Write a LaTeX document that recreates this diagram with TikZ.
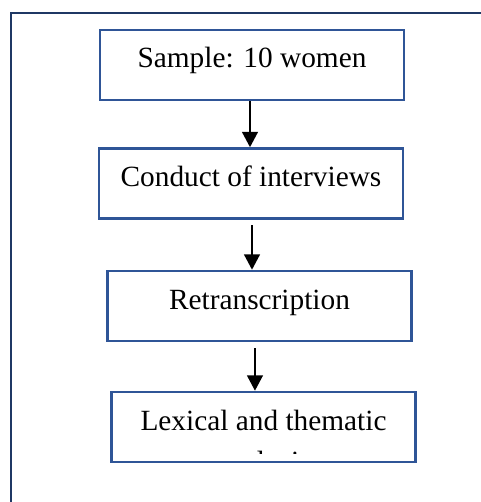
\documentclass[tikz,border=0pt]{standalone}
\usepackage{fontspec}
\setmainfont{Liberation Serif}
\usetikzlibrary{arrows.meta}
\definecolor{boxblue}{HTML}{2F5597}
\definecolor{framenavy}{HTML}{1F3864}
\tikzset{
  stepbox/.style={draw=boxblue,line width=1.8pt,fill=white,
    minimum width=228pt,minimum height=52.5pt,inner sep=0pt,
    text height=12pt,text depth=7.5pt,font=\fontsize{22}{25}\selectfont},
  steptext/.style={font=\fontsize{22}{25}\selectfont,inner sep=0pt},
  flowarrow/.style={-{Triangle[length=11.5pt,width=11.5pt]},line width=2.2pt,black}
}

\begin{document}
\begin{tikzpicture}[x=0.75pt,y=-0.75pt]
  \useasboundingbox (0,0) rectangle (480,502);
  % frame round the whole figure
  \draw[framenavy,line width=1.6pt] (11,506) -- (11,13) -- (486,13);
  % steps
  \node[stepbox] (sample) at (252,65) {Sample: 10 women};
  \node[stepbox] (interviews) at (251,183.5) {Conduct of interviews};
  \node[stepbox] (retrans) at (259.5,306) {Retranscription};
  \node[stepbox] (lexical) at (263.5,427) {Lexical and thematic};
  % overflowing second line, cut by the box
  \begin{scope}
    \clip (lexical.north west) rectangle ([yshift=7.5pt]lexical.south east);
    \node[steptext,anchor=base] (analysis) at (263.5,471) {analysis};
  \end{scope}
  % arrows
  \draw[flowarrow] ([xshift=-1.5pt]sample.south)
    -- ([xshift=-1.5pt]sample.south |- interviews.north);
  \draw[flowarrow,shorten <=4pt] ([xshift=0.75pt]interviews.south)
    -- ([xshift=0.75pt]interviews.south |- retrans.north);
  \draw[flowarrow,shorten <=4.5pt] ([xshift=-3.4pt]retrans.south)
    -- ([xshift=-3.4pt]retrans.south |- lexical.north);
\end{tikzpicture}
\end{document}
